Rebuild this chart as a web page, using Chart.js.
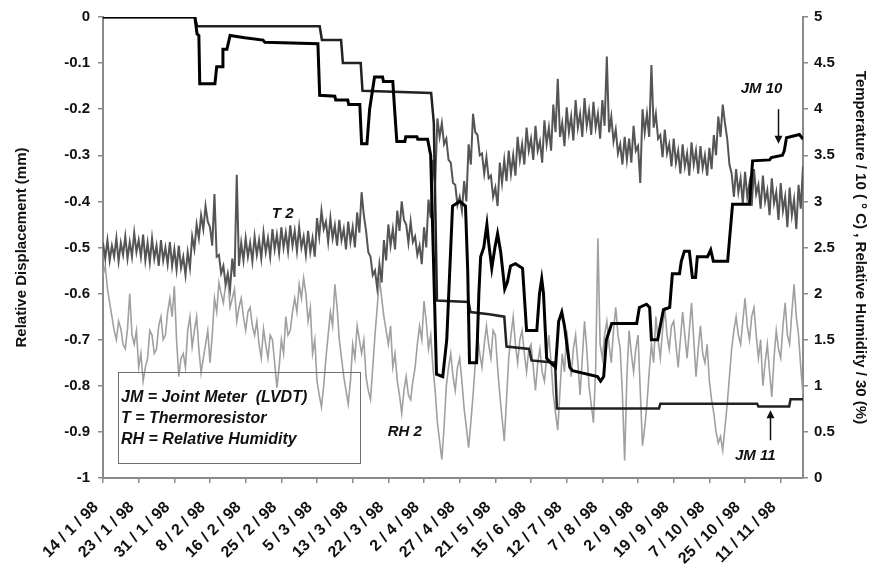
<!DOCTYPE html>
<html>
<head>
<meta charset="utf-8">
<title>Joint meter displacement, temperature and humidity 1998</title>
<script src="https://cdn.jsdelivr.net/npm/chart.js@4.4.1/dist/chart.umd.min.js"></script>
<style>
  html, body { margin: 0; padding: 0; background: #fff; }
  #wrap { width: 869px; height: 566px; }
</style>
</head>
<body>
<div id="wrap"><canvas id="jointChart" width="869" height="566"></canvas></div>
<script>
// Dates printed under the axis; one label every samplesPerLabel samples
const dateLabels = ['14 / 1 / 98', '23 / 1 / 98', '31 / 1 / 98', '8 / 2 / 98', '16 / 2 / 98',
    '25 / 2 / 98', '5 / 3 / 98', '13 / 3 / 98', '22 / 3 / 98', '2 / 4 / 98', '27 / 4 / 98',
    '21 / 5 / 98', '15 / 6 / 98', '12 / 7 / 98', '7 / 8 / 98', '2 / 9 / 98', '19 / 9 / 98',
    '7 / 10 / 98', '25 / 10 / 98', '11 / 11 / 98'];
const samplesPerLabel = 8;
const lastSample = 157;
// temperature and humidity were logged twice per sample step
const readingsPerSample = 2;

// Joint meters: sample where the value changes, and displacement (mm)
const jm10Sample = [0, 20.6, 21.1, 21.5, 21.7, 25.1, 25.5, 26.7, 26.9, 27.8, 28.5, 31.8, 35.9, 36.3,
    48.2, 48.6, 52.0, 52.2, 54.9, 55.1, 57.6, 58.0, 59.2, 59.8, 60.9, 62.7, 62.9, 65.0, 65.4, 65.9,
    67.7, 67.9, 70.4, 70.6, 72.8, 73.5, 74.8, 76.2, 77.1, 78.4, 80.0, 81.3, 81.8, 82.2, 83.8, 84.3,
    84.7, 85.4, 86.1, 86.5, 87.2, 87.9, 88.5, 89.2, 90.1, 90.7, 91.4, 92.5, 94.1, 95.0, 97.3, 97.9,
    98.4, 98.8, 99.5, 100.4, 101.5, 102.2, 102.9, 103.5, 104.7, 105.3, 110.9, 111.6, 112.3, 112.9,
    114.1, 119.7, 120.3, 121.9, 122.6, 123.0, 124.4, 125.7, 127.1, 127.7, 129.3, 129.7, 130.4, 131.5,
    132.2, 132.9, 133.3, 135.6, 136.3, 136.9, 140.1, 141.2, 145.0, 145.7, 149.5, 149.9, 152.4, 152.8,
    153.3, 156.2, 157];
const jm10Disp = [0, 0, -0.037, -0.04, -0.145, -0.145, -0.108, -0.108, -0.07, -0.07, -0.04, -0.045, -0.05, -0.055,
    -0.058, -0.17, -0.172, -0.18, -0.18, -0.19, -0.19, -0.275, -0.275, -0.2, -0.13, -0.13, -0.14, -0.14, -0.2, -0.27,
    -0.27, -0.26, -0.26, -0.265, -0.265, -0.3, -0.775, -0.78, -0.7, -0.41, -0.4, -0.41, -0.55, -0.75, -0.75, -0.6,
    -0.52, -0.5, -0.45, -0.49, -0.545, -0.5, -0.47, -0.51, -0.59, -0.575, -0.54, -0.535, -0.545, -0.68, -0.68, -0.6,
    -0.568, -0.6, -0.74, -0.75, -0.76, -0.66, -0.64, -0.67, -0.76, -0.767, -0.78, -0.79, -0.78, -0.7,
    -0.665, -0.665, -0.63, -0.623, -0.63, -0.7, -0.7, -0.635, -0.63, -0.557, -0.557, -0.53, -0.508, -0.508,
    -0.565, -0.565, -0.52, -0.52, -0.505, -0.53, -0.53, -0.406, -0.406, -0.312, -0.31, -0.305, -0.3, -0.29,
    -0.262, -0.255, -0.265];

const jm11Sample = [0, 20.6, 21.1, 48.6, 49.1, 53.4, 53.8, 57.8, 58.2, 73.6, 74.2, 74.9, 82.0, 82.4,
    86.6, 90.0, 90.5, 95.6, 96.1, 101.4, 101.8, 124.7, 125.0, 146.7, 147.0, 153.9, 154.2, 157];
const jm11Disp = [0, 0, -0.02, -0.02, -0.05, -0.05, -0.1, -0.1, -0.16, -0.165, -0.23, -0.615, -0.618, -0.64,
    -0.645, -0.65, -0.715, -0.72, -0.745, -0.75, -0.849, -0.849, -0.839, -0.839, -0.845, -0.845, -0.829, -0.829];

// Thermoresistor T2, temperature / 10 (deg C), two readings per sample
const t2Values = [
    2.55, 2.38, 2.58, 2.36, 2.52, 2.40, 2.60, 2.35, 2.55, 2.42,
    2.62, 2.38, 2.56, 2.40, 2.66, 2.45, 2.58, 2.40, 2.64, 2.36,
    2.55, 2.34, 2.60, 2.38, 2.52, 2.30, 2.58, 2.36, 2.50, 2.32,
    2.56, 2.30, 2.48, 2.26, 2.52, 2.28, 2.40, 2.20, 2.45, 2.28,
    2.62, 2.48, 2.75, 2.60, 2.85, 2.70, 2.95, 2.78, 2.72, 2.52,
    3.08, 2.40, 2.42, 2.22, 2.30, 2.10, 2.22, 2.05, 2.38, 2.18,
    3.29, 2.30, 2.55, 2.36, 2.60, 2.40, 2.55, 2.35, 2.62, 2.42,
    2.58, 2.38, 2.66, 2.45, 2.60, 2.40, 2.70, 2.48, 2.64, 2.44,
    2.72, 2.50, 2.66, 2.46, 2.74, 2.52, 2.68, 2.46, 2.72, 2.50,
    2.62, 2.42, 2.68, 2.45, 2.60, 2.40, 2.82, 2.62, 2.90, 2.70,
    2.78, 2.56, 2.82, 2.60, 2.74, 2.52, 2.80, 2.58, 2.70, 2.48,
    2.78, 2.56, 2.72, 2.50, 2.88, 2.66, 3.10, 2.85, 2.68, 2.45,
    2.40, 2.20, 2.25, 2.06, 2.32, 2.12, 2.58, 2.36, 2.75, 2.52,
    2.70, 2.48, 2.90, 2.68, 3.00, 2.80, 2.75, 2.55, 2.78, 2.56,
    2.62, 2.42, 2.52, 2.32, 2.72, 2.50, 3.02, 2.82, 3.45, 3.20,
    3.90, 3.70, 3.85, 3.62, 3.68, 3.45, 3.42, 3.20, 3.18, 2.96,
    3.05, 2.90, 3.22, 3.00, 3.62, 3.40, 3.95, 3.75, 3.72, 3.50,
    3.52, 3.30, 3.48, 3.25, 3.28, 3.05, 3.15, 2.95, 3.42, 3.20,
    3.45, 3.22, 3.55, 3.30, 3.50, 3.28, 3.70, 3.45, 3.62, 3.40,
    3.80, 3.55, 3.68, 3.45, 3.82, 3.55, 3.65, 3.42, 3.88, 3.62,
    3.80, 3.55, 4.05, 3.75, 4.33, 3.70, 3.85, 3.60, 4.02, 3.75,
    3.92, 3.66, 4.10, 3.80, 3.95, 3.70, 4.12, 3.82, 3.98, 3.72,
    4.08, 3.80, 3.95, 3.68, 4.10, 3.82, 4.57, 3.75, 3.92, 3.65,
    3.78, 3.52, 3.62, 3.40, 3.70, 3.45, 3.68, 3.42, 3.82, 3.55,
    3.60, 3.20, 4.00, 3.75, 3.95, 3.70, 4.48, 3.80, 3.95, 3.68,
    3.72, 3.48, 3.78, 3.52, 3.62, 3.38, 3.68, 3.42, 3.55, 3.30,
    3.62, 3.38, 3.52, 3.28, 3.64, 3.40, 3.55, 3.30, 3.60, 3.36,
    3.50, 3.28, 3.58, 3.35, 3.72, 3.50, 3.92, 3.70, 4.05, 3.85,
    3.68, 3.40, 3.30, 3.05, 3.35, 3.10, 3.25, 2.98, 3.32, 3.05,
    3.20, 2.95, 3.35, 3.08, 3.18, 2.92, 3.28, 3.00, 3.12, 2.85,
    3.25, 2.98, 3.10, 2.80, 3.20, 2.90, 3.05, 2.72, 3.15, 2.85,
    3.02, 2.70, 3.18, 2.92, 3.38
];

// Relative humidity RH2 / 30 (%), two readings per sample
const rh2Values = [
    2.20, 2.30, 2.05, 1.90, 1.75, 1.60, 1.50, 1.70, 1.62, 1.45,
    1.40, 1.62, 2.00, 1.55, 1.45, 1.60, 1.20, 1.35, 1.05, 1.20,
    1.30, 1.60, 1.55, 1.35, 1.40, 1.65, 1.75, 1.50, 1.55, 1.80,
    1.95, 1.75, 2.08, 1.50, 1.10, 1.30, 1.35, 1.20, 1.60, 1.75,
    1.42, 1.60, 1.75, 1.40, 1.14, 1.30, 1.45, 1.60, 1.25, 1.55,
    1.95, 1.80, 2.12, 2.00, 1.90, 2.10, 2.15, 1.85, 1.95, 2.05,
    1.70, 1.85, 1.95, 1.75, 1.60, 1.80, 1.85, 1.65, 1.55, 1.70,
    1.45, 1.30, 1.62, 1.45, 1.30, 1.55, 1.50, 1.25, 0.98, 1.20,
    1.50, 1.35, 1.75, 1.55, 1.60, 1.80, 1.95, 1.80, 2.10, 1.95,
    2.17, 2.00, 1.70, 1.85, 1.35, 1.50, 1.05, 0.90, 0.77, 1.00,
    1.30, 1.55, 1.80, 1.65, 2.10, 1.85, 1.50, 1.30, 1.10, 0.95,
    0.80, 1.05, 1.45, 1.30, 1.65, 1.50, 1.35, 1.50, 1.10, 0.95,
    0.85, 1.20, 1.55, 1.85, 2.17, 1.95, 1.75, 1.60, 1.45, 1.65,
    1.20, 1.35, 1.05, 0.90, 0.70, 0.95, 1.10, 0.90, 0.85, 1.05,
    1.20, 1.45, 1.65, 1.50, 1.92, 1.70, 1.40, 1.55, 1.20, 0.95,
    0.60, 0.40, 0.20, 0.55, 1.00, 1.20, 1.35, 1.10, 0.95, 1.20,
    1.30, 1.05, 0.75, 0.55, 0.33, 0.60, 0.90, 1.25, 1.55, 1.35,
    1.20, 1.45, 1.65, 1.45, 1.30, 1.60, 1.55, 1.20, 0.90, 0.65,
    0.40, 0.85, 1.30, 1.55, 1.75, 1.45, 1.25, 1.50, 1.60, 1.35,
    1.15, 1.40, 1.45, 1.20, 0.95, 1.25, 1.40, 1.15, 1.05, 1.30,
    1.55, 1.25, 0.90, 0.70, 0.52, 0.95, 1.35, 1.15, 1.60, 1.35,
    1.10, 1.40, 1.55, 1.25, 0.90, 1.30, 1.70, 1.40, 1.00, 0.80,
    0.60, 1.20, 2.60, 1.45, 1.30, 1.55, 1.70, 1.45, 1.25, 1.60,
    1.85, 1.55, 1.40, 0.90, 0.19, 1.10, 1.60, 1.35, 1.15, 1.40,
    1.55, 0.95, 0.35, 0.55, 0.80, 1.15, 1.45, 1.25, 1.75, 1.50,
    1.30, 1.60, 1.85, 1.55, 1.40, 1.65, 1.70, 1.45, 1.20, 1.50,
    1.80, 1.55, 1.30, 1.60, 1.90, 1.50, 1.10, 1.40, 1.65, 1.35,
    1.25, 1.45, 1.05, 0.85, 0.70, 0.50, 0.38, 0.45, 0.30, 0.55,
    0.80, 1.10, 1.40, 1.60, 1.75, 1.55, 1.45, 1.70, 1.95, 1.65,
    1.50, 1.75, 1.85, 1.55, 1.30, 1.50, 1.00, 1.25, 1.45, 1.15,
    0.88, 1.30, 1.60, 1.40, 1.30, 1.65, 1.90, 1.55, 1.45, 1.80,
    2.10, 1.75, 1.55, 1.20, 0.90
];

// Series names written on the plot (sample, displacement axis value)
const seriesNotes = [
    { text: 'T 2', sample: 40.3, disp: -0.428 },
    { text: 'RH 2', sample: 67.7, disp: -0.9 },
    { text: 'JM 10', sample: 147.7, disp: -0.155 },
    { text: 'JM 11', sample: 146.3, disp: -0.952 }
];
const noteArrows = [
    { sample: 151.4, from: -0.2, to: -0.275 },
    { sample: 149.5, from: -0.918, to: -0.853 }
];
const keyLines = ['JM = Joint Meter  (LVDT)', 'T = Thermoresistor', 'RH = Relative Humidity'];

const FONT = '"Liberation Sans", Arial, sans-serif';
const INK = '#111';
const AXIS_GREY = '#8a8a8a';

const toPoints = (xs, ys) => xs.map((x, i) => ({ x, y: ys[i] }));
const byReading = values => values.map((y, i) => ({ x: i / readingsPerSample, y }));
const roundTick = v => String(Math.round(v * 10) / 10);

/**
 * Draws the series names, arrows and the abbreviation box
 */
const notesPlugin = {
    id: 'notes',
    afterDatasetsDraw(chart) {
        const { ctx, scales: { x, y } } = chart;
        ctx.save();
        ctx.fillStyle = INK;
        ctx.strokeStyle = INK;
        ctx.textAlign = 'center';
        ctx.textBaseline = 'middle';
        ctx.font = 'italic bold 15px ' + FONT;
        seriesNotes.forEach(n => {
            ctx.fillText(n.text, x.getPixelForValue(n.sample), y.getPixelForValue(n.disp));
        });

        // arrows pointing at the joint meter lines
        ctx.lineWidth = 1.5;
        noteArrows.forEach(a => {
            const px = Math.round(x.getPixelForValue(a.sample)) + 0.5;
            const y0 = y.getPixelForValue(a.from);
            const y1 = y.getPixelForValue(a.to);
            const dir = Math.sign(y1 - y0);
            ctx.beginPath();
            ctx.moveTo(px, y0);
            ctx.lineTo(px, y1 - dir * 6);
            ctx.stroke();
            ctx.beginPath();
            ctx.moveTo(px, y1);
            ctx.lineTo(px - 4, y1 - dir * 8);
            ctx.lineTo(px + 4, y1 - dir * 8);
            ctx.closePath();
            ctx.fill();
        });

        // abbreviation key
        ctx.strokeStyle = '#6f6f6f';
        ctx.lineWidth = 1;
        ctx.strokeRect(118.5, 372.5, 242, 91);
        ctx.textAlign = 'left';
        ctx.font = 'italic bold 16px ' + FONT;
        keyLines.forEach((t, i) => ctx.fillText(t, 121, 398 + i * 21));
        ctx.restore();
    }
};

const tickFont = { family: FONT, size: 15, weight: 'bold' };

new Chart(document.getElementById('jointChart'), {
    type: 'line',
    data: {
        datasets: [
            {
                label: 'JM 10',
                data: toPoints(jm10Sample, jm10Disp),
                yAxisID: 'y',
                borderColor: '#000',
                borderWidth: 3,
                pointRadius: 0,
                tension: 0
            },
            {
                label: 'JM 11',
                data: toPoints(jm11Sample, jm11Disp),
                yAxisID: 'y',
                borderColor: '#222',
                borderWidth: 2.5,
                pointRadius: 0,
                tension: 0
            },
            {
                label: 'T 2',
                data: byReading(t2Values),
                yAxisID: 'y1',
                borderColor: '#555',
                borderWidth: 2,
                pointRadius: 0,
                tension: 0
            },
            {
                label: 'RH 2',
                data: byReading(rh2Values),
                yAxisID: 'y1',
                borderColor: '#a0a0a0',
                borderWidth: 1.6,
                pointRadius: 0,
                tension: 0
            }
        ]
    },
    options: {
        responsive: false,
        devicePixelRatio: 1,
        animation: false,
        events: [],
        layout: { padding: { top: 15, left: 0, right: 0, bottom: 0 } },
        plugins: {
            legend: { display: false },
            tooltip: { enabled: false }
        },
        scales: {
            x: {
                type: 'linear',
                min: 0,
                max: lastSample,
                afterBuildTicks: axis => {
                    axis.ticks = dateLabels.map((_, i) => ({ value: i * samplesPerLabel }));
                },
                afterFit: axis => { axis.height = 88; },
                ticks: {
                    autoSkip: false,
                    minRotation: 45,
                    maxRotation: 45,
                    padding: 15,
                    labelOffset: -7,
                    color: INK,
                    font: { family: FONT, size: 16, weight: 'bold' },
                    callback: v => dateLabels[Math.round(v / samplesPerLabel)]
                },
                grid: { drawOnChartArea: false, tickLength: 5, color: AXIS_GREY, lineWidth: 1.5 },
                border: { color: AXIS_GREY, width: 2 }
            },
            y: {
                position: 'left',
                min: -1,
                max: 0,
                afterFit: axis => { axis.width = 103; },
                ticks: { stepSize: 0.1, padding: 8, color: INK, font: tickFont, callback: roundTick },
                grid: { drawOnChartArea: false, tickLength: 5, color: AXIS_GREY, lineWidth: 1.5 },
                border: { color: AXIS_GREY, width: 2 },
                title: {
                    display: true,
                    text: 'Relative Displacement (mm)',
                    color: INK,
                    font: tickFont,
                    padding: { top: 13, bottom: 0 }
                }
            },
            y1: {
                position: 'right',
                min: 0,
                max: 5,
                afterFit: axis => { axis.width = 66; },
                ticks: { stepSize: 0.5, padding: 6, color: INK, font: tickFont, callback: roundTick },
                grid: { drawOnChartArea: false, tickLength: 5, color: AXIS_GREY, lineWidth: 1.5 },
                border: { color: AXIS_GREY, width: 2 },
                title: {
                    display: true,
                    text: 'Temperature / 10 ( ° C) , Relative Humidity / 30 (%)',
                    color: INK,
                    font: tickFont,
                    padding: { top: 0, bottom: 0 }
                }
            }
        }
    },
    plugins: [notesPlugin]
});
</script>
</body>
</html>
